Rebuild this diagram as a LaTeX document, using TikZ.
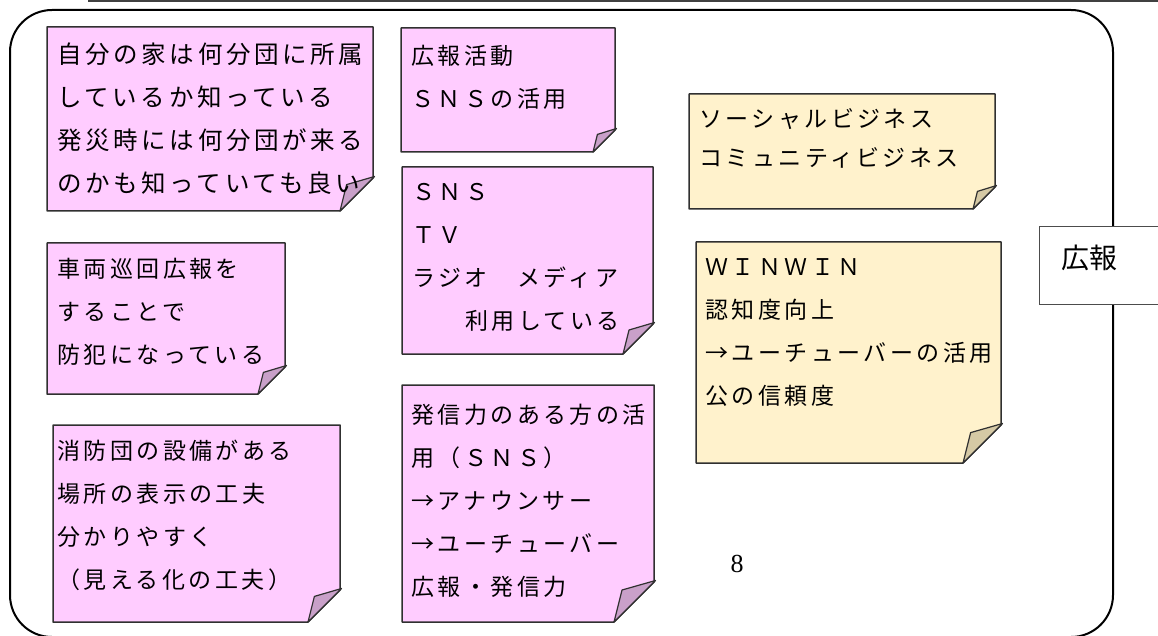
\documentclass[tikz,border=0pt]{standalone}
\usepackage{fontspec}
\newfontfamily\jp{Noto Sans CJK JP}[LetterSpace=15]
\newfontfamily\jpplain{Noto Sans CJK JP}
\newfontfamily\numfont{Liberation Serif}
\definecolor{notepink}{HTML}{FFCCFF}
\definecolor{flappink}{HTML}{C9A0C9}
\definecolor{noteyel}{HTML}{FFF2CC}
\definecolor{flapyel}{HTML}{D5C9A5}
\definecolor{edgecol}{HTML}{303030}
\tikzset{
  notetext/.style={anchor=north west, inner sep=0pt, align=left,
    font=\jp\fontsize{23}{43}\selectfont},
  noteedge/.style={draw=edgecol, line width=1.5pt, line join=round},
  frame/.style={draw=black, line width=2pt, rounded corners=42pt},
}
% name, x1, y1, x2, y2, fold, fill, flap
\newcommand\stickynote[8]{%
  \draw[noteedge, fill=#7] (#2,#3) -- (#4,#3) -- (#4,#5-#6) -- (#4-#6,#5) -- (#2,#5) -- cycle;
  \draw[noteedge, line width=1.2pt, fill=#8] (#4-#6,#5) -- (#4-0.8*#6,#5-0.8*#6) -- (#4+1.5,#5-#6-1.5) -- cycle;
  \coordinate (#1) at (#2,#3);
}
\begin{document}
\begin{tikzpicture}[x=1pt,y=-1pt]
\useasboundingbox (0,0) rectangle (1158,636);
\clip (0,0) rectangle (1158,636);
\fill[white] (0,0) rectangle (1158,636);
% top rule
\draw[line width=2.5pt, draw=black!75] (88,1) -- (1160,1);
% frame
\draw[frame] (10,10) rectangle (1113,637);
% notes
\stickynote{na}{47}{27}{373}{211}{33}{notepink}{flappink}
\stickynote{nb}{401}{28}{615}{152}{22}{notepink}{flappink}
\stickynote{nc}{402}{167}{653}{354}{30}{notepink}{flappink}
\stickynote{nd}{47}{243}{285}{394}{27}{notepink}{flappink}
\stickynote{ne}{53}{425}{340}{622}{32}{notepink}{flappink}
\stickynote{nf}{402}{385}{654}{622}{40}{notepink}{flappink}
\stickynote{ng}{689}{94}{995}{209}{22}{noteyel}{flapyel}
\stickynote{nh}{696}{242}{1001}{463}{38}{noteyel}{flapyel}
% texts
\node[notetext, font=\jp\fontsize{24.5}{43}\selectfont] (ta) at (57,43) {自分の家は何分団に所属\\しているか知っている\\発災時には何分団が来る\\のかも知っていても良い};
\node[notetext] (tb) at (411,45) {広報活動\\ＳＮＳの活用};
\node[notetext] (tc) at (412,183) {ＳＮＳ\\ＴＶ\\ラジオ　メディア\\　　利用している};
\node[notetext] (td) at (57,258) {車両巡回広報を\\することで\\防犯になっている};
\node[notetext] (te) at (57,440) {消防団の設備がある\\場所の表示の工夫\\分かりやすく\\（見える化の工夫）};
\node[notetext] (tf) at (411,404) {発信力のある方の活\\用（ＳＮＳ）\\→アナウンサー\\→ユーチューバー\\広報・発信力};
\node[notetext, font=\jp\fontsize{23}{39}\selectfont] (tg) at (699,108) {ソーシャルビジネス\\コミュニティビジネス};
\node[notetext] (th) at (705,258) {ＷＩＮＷＩＮ\\認知度向上\\→ユーチューバーの活用\\公の信頼度};
% side label
\node[draw=black!70, line width=1pt, fill=white, anchor=north west, inner sep=0pt,
      minimum width=140pt, minimum height=78pt] (kohobox) at (1039,226) {};
\node[anchor=west, inner sep=0pt, font=\jpplain\fontsize{28}{30}\selectfont] (koho) at (1061,258) {広報};
% page number
\node[font=\numfont\fontsize{26}{30}\selectfont, inner sep=0pt] (pageno) at (737,564) {8};
\end{tikzpicture}
\end{document}
